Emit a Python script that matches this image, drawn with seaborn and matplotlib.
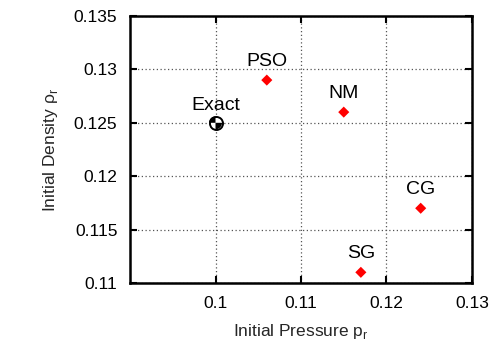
import numpy as np
import pandas as pd
import matplotlib
matplotlib.use("Agg")
import matplotlib.pyplot as plt
from matplotlib.path import Path
import seaborn as sns

# Estimated initial state for each optimiser
methods = ["PSO", "NM", "CG", "SG"]
pressure = [0.106, 0.115, 0.124, 0.117]
density = [0.129, 0.126, 0.117, 0.111]

# Reference solution
exact_label = "Exact"
exact_pressure = [0.100]
exact_density = [0.125]

x_ticks = [0.10, 0.11, 0.12, 0.13]
x_tick_labels = ["0.1", "0.11", "0.12", "0.13"]
y_ticks = [0.110, 0.115, 0.120, 0.125, 0.130, 0.135]
y_tick_labels = ["0.11", "0.115", "0.12", "0.125", "0.13", "0.135"]

sns.set_theme(style="ticks")
plt.rcParams["font.family"] = ["Liberation Sans", "DejaVu Sans"]
plt.rcParams["mathtext.fontset"] = "custom"
plt.rcParams["mathtext.rm"] = "Liberation Sans"

fig = plt.figure(figsize=(4.99, 3.43), dpi=100)
ax = fig.add_axes([130 / 499, 1 - 283 / 343, (472 - 130) / 499, (283 - 16) / 343])

df = pd.DataFrame({"pressure": pressure, "density": density, "method": methods})
sns.scatterplot(data=df, x="pressure", y="density", marker="D", s=32,
                color="#ff0000", edgecolor="none", ax=ax, zorder=4)

# Two-tone circle marker for the exact solution
theta_a = np.linspace(np.pi / 2, np.pi, 20)
theta_b = np.linspace(-np.pi / 2, 0, 20)
verts = ([(0, 0)] + [(np.cos(t), np.sin(t)) for t in theta_a] + [(0, 0)]
         + [(0, 0)] + [(np.cos(t), np.sin(t)) for t in theta_b] + [(0, 0)])
codes = ([Path.MOVETO] + [Path.LINETO] * 20 + [Path.CLOSEPOLY]
         + [Path.MOVETO] + [Path.LINETO] * 20 + [Path.CLOSEPOLY])
quarters = Path(verts, codes)

exact_df = pd.DataFrame({"pressure": exact_pressure, "density": exact_density})
sns.scatterplot(data=exact_df, x="pressure", y="density", marker="o", s=88,
                color="white", edgecolor="black", linewidth=1.4, ax=ax, zorder=5)
sns.scatterplot(data=exact_df, x="pressure", y="density", marker=quarters, s=88,
                color="black", edgecolor="none", linewidth=0, ax=ax, zorder=6)

for name, px, py in zip(methods, pressure, density):
    ax.annotate(name, (px, py), xytext=(0, 10), textcoords="offset points",
                ha="center", va="baseline", fontsize=14, color="black")
ax.annotate(exact_label, (exact_pressure[0], exact_density[0]), xytext=(0, 9.5),
            textcoords="offset points", ha="center", va="baseline",
            fontsize=14, color="black")

ax.set_xlim(0.09, 0.13)
ax.set_ylim(0.11, 0.135)
ax.set_xticks(x_ticks)
ax.set_xticklabels(x_tick_labels)
ax.set_yticks(y_ticks)
ax.set_yticklabels(y_tick_labels)

ax.grid(True, linestyle=(0, (1, 2)), color="#555555", linewidth=0.9)
ax.set_axisbelow(True)
ax.tick_params(direction="in", length=5, width=1.5, top=True, right=True,
               labelsize=12.5, pad=9, colors="black")
for sp in ax.spines.values():
    sp.set_visible(True)
    sp.set_linewidth(1.8)
    sp.set_color("black")

ax.set_xlabel("Initial Pressure p$_\\mathregular{r}$", fontsize=12.5, labelpad=8)
ax.set_ylabel("Initial Density ρ$_\\mathregular{r}$", fontsize=12.5, labelpad=10)

fig.savefig("out.png", dpi=100)
